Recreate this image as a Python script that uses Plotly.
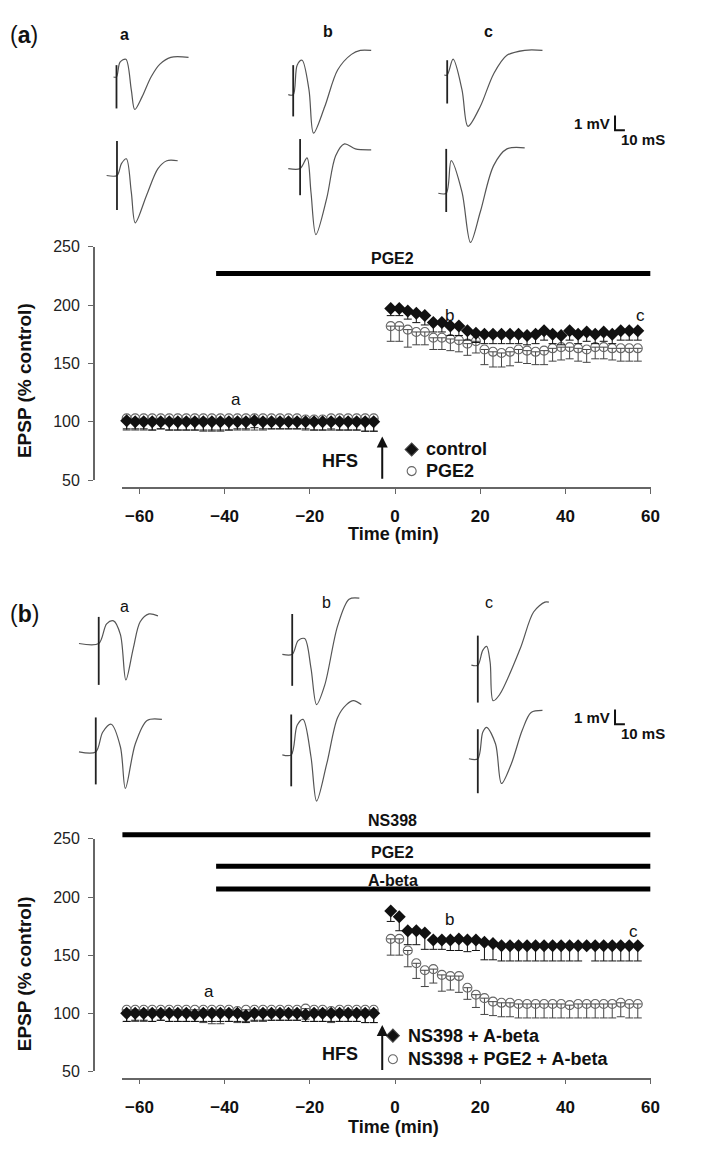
import plotly.graph_objects as go

W, H = 703, 1155
FONT = "Arial, Liberation Sans, sans-serif"

# ---------------- Panel (a) data ----------------
t_base = [-65, -63, -61, -59, -57, -55, -53, -51, -49, -47, -45, -43, -41, -39, -37, -35,
          -33, -31, -29, -27, -25, -23, -21, -19, -17, -15, -13, -11, -9, -7, -5]
t_post = [-1, 1, 3, 5, 7, 9, 11, 13, 15, 17, 19, 21, 23, 25, 27, 29,
          31, 33, 35, 37, 39, 41, 43, 45, 47, 49, 51, 53, 55, 57]

a_ctrl_base = [103, 101, 100, 100, 100, 100, 100, 100, 100, 100, 100, 100, 100, 100, 100, 100,
               101, 100, 100, 100, 100, 100, 100, 100, 100, 100, 100, 100, 100, 100, 100]
a_ctrl_base_err = [8, 7, 6, 6, 7, 6, 7, 7, 7, 7, 7, 7, 7, 7, 6, 6,
                   6, 6, 6, 6, 6, 6, 6, 7, 7, 7, 7, 7, 7, 8, 8]
a_pge_base = [102, 103, 103, 103, 103, 103, 103, 103, 103, 103, 103, 103, 103, 103, 103, 103,
              103, 103, 103, 103, 103, 103, 102, 102, 102, 103, 103, 103, 103, 103, 103]
a_pge_base_err = [9, 10, 10, 10, 10, 9, 10, 10, 10, 10, 11, 11, 11, 10, 10, 10,
                  10, 10, 9, 9, 9, 9, 9, 9, 9, 9, 10, 10, 10, 11, 11]
a_ctrl_post = [197, 197, 195, 193, 191, 185, 185, 182, 182, 178, 176, 175, 175, 175, 175, 175,
               174, 175, 178, 175, 174, 178, 175, 177, 175, 177, 175, 178, 178, 178]
a_ctrl_post_err = [6, 6, 7, 8, 8, 8, 8, 8, 8, 8, 8, 8, 8, 8, 8, 8,
                   8, 8, 8, 8, 8, 8, 8, 8, 8, 8, 8, 8, 8, 8]
a_pge_post = [182, 182, 179, 177, 177, 172, 172, 171, 170, 167, 169, 162, 160, 159, 160, 162,
              161, 160, 161, 163, 164, 164, 163, 162, 164, 164, 163, 163, 163, 163]
a_pge_post_err = [13, 13, 15, 11, 11, 10, 10, 10, 10, 10, 10, 13, 13, 12, 12, 11,
                  11, 11, 12, 11, 11, 10, 11, 11, 10, 10, 10, 11, 11, 11]

# ---------------- Panel (b) data ----------------
b_ctrl_base = [103, 100, 100, 100, 100, 100, 100, 100, 100, 99, 100, 100, 100, 100, 100, 98,
               100, 100, 100, 100, 100, 100, 99, 100, 100, 100, 100, 100, 100, 100, 100]
b_ctrl_base_err = [8, 7, 6, 6, 7, 6, 7, 7, 7, 6, 7, 7, 7, 7, 7, 6,
                   6, 6, 6, 6, 6, 6, 6, 7, 7, 7, 7, 7, 7, 8, 8]
b_pge_base = [102, 103, 103, 103, 103, 103, 103, 103, 103, 103, 103, 103, 103, 103, 102, 103,
              103, 103, 103, 103, 103, 103, 104, 103, 103, 102, 103, 103, 103, 103, 103]
b_pge_base_err = [10, 10, 10, 10, 10, 9, 10, 10, 10, 10, 11, 12, 12, 10, 10, 10,
                  10, 10, 9, 9, 9, 9, 9, 10, 10, 10, 10, 10, 10, 11, 11]
b_ctrl_post = [188, 183, 171, 171, 169, 163, 163, 163, 164, 163, 163, 161, 160, 158, 158, 158,
               158, 158, 158, 158, 158, 158, 158, 158, 158, 158, 158, 158, 158, 158]
b_ctrl_post_err = [9, 12, 12, 12, 14, 8, 8, 9, 10, 10, 9, 15, 14, 13, 13, 13,
                   13, 13, 13, 13, 13, 13, 13, 2, 13, 13, 13, 13, 13, 13]
b_pge_post = [164, 164, 154, 143, 137, 138, 133, 132, 132, 122, 116, 113, 110, 109, 109, 108,
              108, 108, 108, 108, 108, 107, 108, 108, 108, 108, 108, 109, 108, 108]
b_pge_post_err = [14, 14, 14, 13, 14, 12, 14, 12, 14, 10, 11, 14, 12, 12, 12, 12,
                  12, 12, 12, 12, 12, 11, 12, 12, 12, 12, 12, 12, 12, 12]

# drug application bars
a_bars_label = ["PGE2"]
a_bars_start = [-42]
a_bars_end = [60]
a_bars_level = [227]
b_bars_label = ["NS398", "PGE2", "A-beta"]
b_bars_start = [-65, -42, -42]
b_bars_end = [60, 60, 60]
b_bars_level = [253.5, 226.5, 207]

x_ticks = [-60, -40, -20, 0, 20, 40, 60]
x_ticktext = ["\u221260", "\u221240", "\u221220", "0", "20", "40", "60"]
y_ticks = [50, 100, 150, 200, 250]
hfs_time = -3

# ---------------- Example EPSP traces: (ms, mV) relative to the stimulus ----------------
wave_Aa1 = [(-3, 0), (0, 0), (3.6, 1.0), (9.5, 1.2), (15, -0.87), (18.5, -2.2), (26, -1.33), (35, 0), (44, 0.87), (55, 1.33), (73, 1.33)]
wave_Ab1 = [(-5, 0), (0, 0), (4, 2.0), (9, 2.33), (16, 0.33), (20.6, -2.6), (32, -0.8), (45, 1.67), (59, 2.73), (68, 3.0), (79, 3.0)]
wave_Ac1 = [(-3, 0), (0, 0), (6, 1.07), (15, -1.0), (21, -3.47), (33.5, -2.13), (47, 0.07), (60.5, 1.33), (78.5, 1.67), (96.5, 1.67)]
wave_Aa2 = [(-10.5, 0), (0, 0), (4.5, 0.8), (9.5, 1.13), (14.5, -1.13), (18.5, -3.2), (30, -1.33), (41.5, 0.47), (50.5, 1.0), (61.5, 1.0)]
wave_Ab2 = [(-12, 0), (0, 0), (7, 0.73), (11, -1.6), (16, -4.47), (27, -2.0), (36, 0.87), (45, 1.67), (56, 1.33), (72, 1.27)]
wave_Ac2 = [(-8, 0), (0, 0), (5, 2.2), (16, 0.07), (24.6, -3.33), (34.5, -1.27), (48, 1.87), (61.5, 3.0), (79.5, 3.07)]
wave_Ba1 = [(-20, 0), (0, 0), (8, 1.33), (15, 1.53), (22, 0.6), (27.5, -2.47), (35, -0.33), (42, 1.47), (51, 2.0), (60, 1.87)]
wave_Bb1 = [(-10, 0), (0, 0), (6, 0.93), (12.6, 1.07), (19, -0.93), (24.7, -3.4), (33, -2.07), (46, 1.93), (57.6, 3.73), (68, 3.8)]
wave_Bc1 = [(-6.5, 0), (0, 0), (5, 1.0), (9, 1.27), (12.5, 0.2), (15.5, -2.4), (22, -2.0), (43, 1.13), (56.5, 3.6), (68, 4.27), (72, 4.27)]
wave_Ba2 = [(-17, 0), (0, 0), (7, 1.33), (15.6, 1.87), (25, 0.33), (30, -2.47), (40, 0.53), (52, 2.13), (67, 2.2)]
wave_Bb2 = [(-9, 0), (0, 0), (6, 2.0), (12, 2.4), (20, -0.13), (25.7, -3.13), (36, -0.6), (47, 2.53), (56, 3.4), (63, 3.67), (71, 3.4)]
wave_Bc2 = [(-9, 0), (0, 0), (5, 1.8), (9, 2.13), (18, 1.0), (24, -1.67), (34, -0.33), (45, 1.93), (54, 3.13), (65.5, 3.27)]
artifact_top = [0.8, 2.0, 1.0, 2.33, 2.0, 3.0, 1.8, 2.73, 2.0, 2.33, 2.73, 2.0]
artifact_bottom = [-2.13, -1.47, -1.93, -2.33, -1.8, -1.27, -2.8, -2.13, -2.53, -2.2, -2.13, -2.33]
wave_list = [wave_Aa1, wave_Ab1, wave_Ac1, wave_Aa2, wave_Ab2, wave_Ac2,
             wave_Ba1, wave_Bb1, wave_Bc1, wave_Ba2, wave_Bb2, wave_Bc2]
scalebar_ms = 10
scalebar_mv = 1

# ---------------- layout geometry (pixels) ----------------
MV_PX = 15.0   # px per mV in the trace sketches
MS_PX = 1.0    # px per ms
trace_origin_px = [(118, 70), (297, 88), (453, 68), (118.5, 170), (304, 163), (452, 188),
                   (100, 645), (296, 656), (484, 667), (97, 755), (295, 758), (484, 762)]
scalebar_px = [(623, 124), (623, 727)]
PLOT_X0, PLOT_X1 = 124, 659          # x-axis line extent
A_Y250, A_Y50, A_XAX = 242.3, 479.3, 487
B_Y250, B_Y50, B_XAX = 843.3, 1079.3, 1086.7
XR = [-64, 60]


def px(x):
    return x / W


def py(y):
    return 1 - y / H


def fx(x):  # page pixel -> hidden page frame x
    return x / MS_PX


def fy(y):  # page pixel -> hidden page frame y
    return -y / MV_PX


def val_at(p, y250, y50):  # page pixel row -> y value of a panel
    return 50 + (y50 - p) * 200.0 / (y50 - y250)


fig = go.Figure()

# hidden full-page frame for the example traces (x in ms, y in mV)
fig.update_layout(
    xaxis3=dict(domain=[0, 1], range=[0, W / MS_PX], visible=False, anchor="y3", fixedrange=True),
    yaxis3=dict(domain=[0, 1], range=[-H / MV_PX, 0], visible=False, anchor="x3", fixedrange=True),
)

for i, wave in enumerate(wave_list):
    ox = fx(trace_origin_px[i][0])
    oy = fy(trace_origin_px[i][1])
    fig.add_trace(go.Scatter(
        x=[ox + p[0] for p in wave], y=[oy + p[1] for p in wave],
        mode="lines", line=dict(color="#555", width=1.2, shape="spline", smoothing=0.9),
        xaxis="x3", yaxis="y3", showlegend=False, hoverinfo="skip"))
    fig.add_trace(go.Scatter(
        x=[ox, ox], y=[oy + artifact_top[i], oy + artifact_bottom[i]],
        mode="lines", line=dict(color="#222", width=1.8),
        xaxis="x3", yaxis="y3", showlegend=False, hoverinfo="skip"))

for sx, sy in scalebar_px:
    ox = fx(sx)
    oy = fy(sy)
    fig.add_trace(go.Scatter(
        x=[ox, ox, ox + scalebar_ms], y=[oy + scalebar_mv, oy, oy],
        mode="lines", line=dict(color="#111", width=2),
        xaxis="x3", yaxis="y3", showlegend=False, hoverinfo="skip"))


def add_panel(xa, ya, xbar, ybar, ctrl_base, ctrl_base_err, pge_base, pge_base_err,
              ctrl_post, ctrl_post_err, pge_post, pge_post_err,
              bars_label, bars_start, bars_end, bars_level, label_shift):
    t_all = t_base + t_post
    pge = pge_base + pge_post
    pge_err = pge_base_err + pge_post_err
    ctrl = ctrl_base + ctrl_post
    ctrl_err = ctrl_base_err + ctrl_post_err
    fig.add_trace(go.Scatter(
        x=t_all, y=pge, mode="markers", xaxis=xa, yaxis=ya, cliponaxis=False,
        marker=dict(symbol="circle-open", size=9, color="#666", line=dict(width=1.1)),
        error_y=dict(type="data", symmetric=False, array=[0] * len(pge), arrayminus=pge_err,
                     color="#444", thickness=1, width=4),
        showlegend=False, hoverinfo="skip"))
    fig.add_trace(go.Scatter(
        x=t_all, y=ctrl, mode="markers", xaxis=xa, yaxis=ya, cliponaxis=False,
        marker=dict(symbol="diamond", size=10, color="#111"),
        error_y=dict(type="data", symmetric=False, array=[0] * len(ctrl), arrayminus=ctrl_err,
                     color="#111", thickness=1, width=4),
        showlegend=False, hoverinfo="skip"))
    # drug bars are drawn on a hidden twin axis (same scale, taller domain) so they are not clipped
    for lab, s, e, lev, sh in zip(bars_label, bars_start, bars_end, bars_level, label_shift):
        fig.add_trace(go.Scatter(
            x=[s, e], y=[lev, lev], mode="lines", xaxis=xbar, yaxis=ybar,
            line=dict(color="black", width=5), showlegend=False, hoverinfo="skip"))
        fig.add_annotation(x=-0.5, y=lev, xref=xbar, yref=ybar, xanchor="center",
                           text="<b>%s</b>" % lab, showarrow=False, yanchor="middle", yshift=sh,
                           font=dict(family=FONT, size=16, color="#111"))


add_panel("x", "y", "x4", "y4", a_ctrl_base, a_ctrl_base_err, a_pge_base, a_pge_base_err,
          a_ctrl_post, a_ctrl_post_err, a_pge_post, a_pge_post_err,
          a_bars_label, a_bars_start, a_bars_end, a_bars_level, [15])
add_panel("x2", "y2", "x5", "y5", b_ctrl_base, b_ctrl_base_err, b_pge_base, b_pge_base_err,
          b_ctrl_post, b_ctrl_post_err, b_pge_post, b_pge_post_err,
          b_bars_label, b_bars_start, b_bars_end, b_bars_level, [14, 14, 8])

common_x = dict(range=XR, showline=True, linecolor="#666", linewidth=1.5, ticks="outside",
                ticklen=5, tickcolor="#666", tickvals=x_ticks,
                ticktext=["<b>%s</b>" % t for t in x_ticktext], ticklabelstandoff=8,
                tickfont=dict(family=FONT, size=17, color="#111"), showgrid=False,
                zeroline=False, anchor="free", fixedrange=True)
common_y = dict(range=[50, 250], showline=True, linecolor="#666", linewidth=1.5, ticks="outside",
                ticklen=5, tickcolor="#666", tickvals=y_ticks, ticklabelstandoff=5,
                tickfont=dict(family=FONT, size=16, color="#222"), showgrid=False,
                zeroline=False, anchor="free", fixedrange=True)
hidden_x = dict(range=XR, visible=False, fixedrange=True, domain=[px(PLOT_X0), px(PLOT_X1)])

fig.update_layout(
    width=W, height=H, margin=dict(l=0, r=0, t=0, b=0),
    paper_bgcolor="white", plot_bgcolor="rgba(0,0,0,0)",
    xaxis=dict(common_x, domain=[px(PLOT_X0), px(PLOT_X1)], position=py(A_XAX)),
    yaxis=dict(common_y, domain=[py(A_Y50), py(A_Y250)], position=px(95)),
    xaxis2=dict(common_x, domain=[px(PLOT_X0), px(PLOT_X1)], position=py(B_XAX)),
    yaxis2=dict(common_y, domain=[py(B_Y50), py(B_Y250)], position=px(95)),
    xaxis4=dict(hidden_x, anchor="y4"),
    yaxis4=dict(visible=False, fixedrange=True, anchor="x4", domain=[py(A_XAX), py(225)],
                range=[val_at(A_XAX, A_Y250, A_Y50), val_at(225, A_Y250, A_Y50)]),
    xaxis5=dict(hidden_x, anchor="y5"),
    yaxis5=dict(visible=False, fixedrange=True, anchor="x5", domain=[py(B_XAX), py(820)],
                range=[val_at(B_XAX, B_Y250, B_Y50), val_at(820, B_Y250, B_Y50)]),
    showlegend=False,
)


def page_text(text, x, y, size, xanchor="center", yanchor="middle", angle=0):
    fig.add_annotation(x=px(x), y=py(y), xref="paper", yref="paper", text=text,
                       xanchor=xanchor, yanchor=yanchor, textangle=angle, showarrow=False,
                       font=dict(family=FONT, size=size, color="#111"))


# axis titles
for ytit, xtit in [(378, 534), (980, 1136)]:
    page_text("<b>EPSP (% control)</b>", 25, ytit, 19, angle=-90)
    page_text("<b>Time (min)</b>", 399, xtit, 18)

# panel labels
page_text("(<b>a</b>)", 8, 27, 23, xanchor="left")
page_text("(<b>b</b>)", 8, 615, 23, xanchor="left")

# trace labels a b c
for lab, xx, yy, bold in [("a", 126, 27, True), ("b", 332, 24, True), ("c", 495, 24, True),
                          ("a", 126, 607, False), ("b", 331, 603, False), ("c", 495, 603, False)]:
    page_text(("<b>%s</b>" % lab) if bold else lab, xx, yy, 16)

# scale bar labels
for sx, sy in scalebar_px:
    page_text("<b>1 mV</b>", sx - 3, sy - 7, 15, xanchor="right")
    page_text("<b>10 mS</b>", sx + 4, sy + 9, 15, xanchor="left")

# a, b, c time-point markers inside plots
for xa, ya, lab, xx, yy in [("x", "y", "a", -37.3, 119.5), ("x", "y", "b", 12.9, 191), ("x", "y", "c", 57.7, 191),
                            ("x2", "y2", "a", -43.6, 119), ("x2", "y2", "b", 12.9, 181), ("x2", "y2", "c", 56, 170)]:
    fig.add_annotation(x=xx, y=yy, xref=xa, yref=ya, text=lab, showarrow=False,
                       xanchor="center", yanchor="middle",
                       font=dict(family=FONT, size=17, color="#111"))

# HFS arrows
for xa, ya, tip in [("x", "y", 87.5), ("x2", "y2", 90)]:
    fig.add_annotation(x=hfs_time, y=tip, ax=hfs_time, ay=50, xref=xa, yref=ya, axref=xa, ayref=ya,
                       showarrow=True, arrowhead=2, arrowsize=1.1, arrowwidth=2, arrowcolor="#111", text="")
for yy in [460, 1062]:
    page_text("<b>HFS</b>", 365, yy, 18, xanchor="right")

# legends (page-pixel positions in the hidden page frame)
legend_items = [(417, 448, "diamond", "control"), (417, 470, "circle-open", "PGE2"),
                (398, 1043, "diamond", "NS398 + A-beta"),
                (398, 1067, "circle-open", "NS398 + PGE2 + A-beta")]
for lx, ly, sym, lab in legend_items:
    fig.add_trace(go.Scatter(x=[fx(lx)], y=[fy(ly)], mode="markers", xaxis="x3", yaxis="y3",
                             marker=dict(symbol=sym, size=10 if sym == "diamond" else 9,
                                         color="#111" if sym == "diamond" else "#666",
                                         line=dict(width=1.1)),
                             showlegend=False, hoverinfo="skip"))
    page_text("<b>%s</b>" % lab, lx + 13, ly, 18, xanchor="left")

fig.write_html("out.html", config={"displayModeBar": False},
               post_script="document.body.style.margin='0px';")
